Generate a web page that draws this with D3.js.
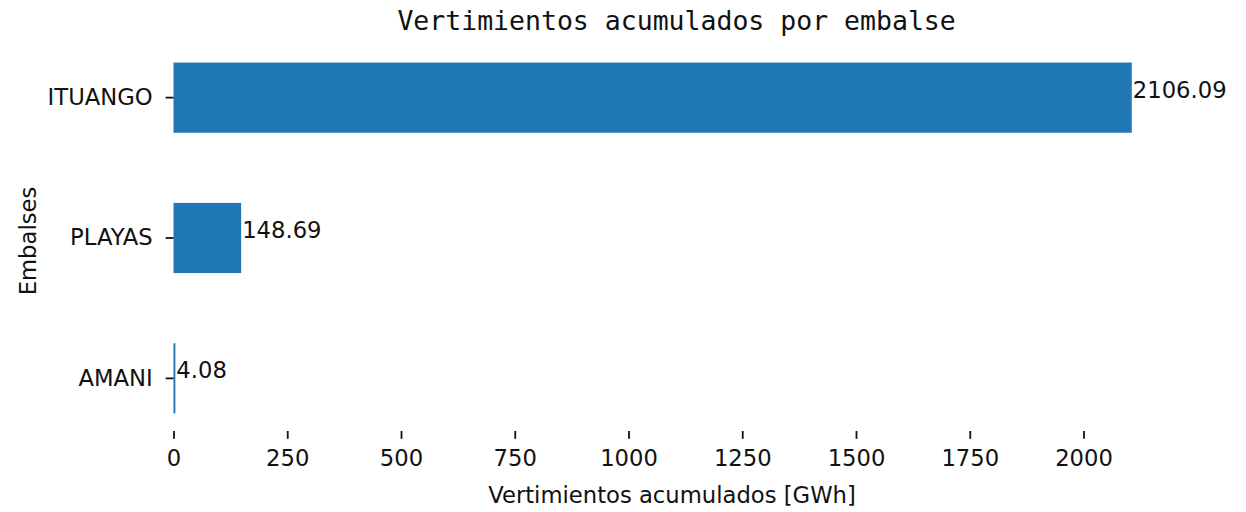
<!DOCTYPE html>
<html>
<head>
<meta charset="utf-8">
<script src="https://cdn.jsdelivr.net/npm/d3@7"></script>
<style>
  body { margin: 0; background: #fff; }
  svg { display: block; }
</style>
</head>
<body>
<svg id="chart" width="1246" height="512"></svg>
<script>
// data
const embalses = ['ITUANGO', 'PLAYAS', 'AMANI'];
const vertimientos = [2106.09, 148.69, 4.08];
const xTicks = [0, 250, 500, 750, 1000, 1250, 1500, 1750, 2000];

const chart = d3.select('#chart');
const sans = 'DejaVu Sans, sans-serif';
const mono = 'DejaVu Sans Mono, monospace';
const fs = '22.7px';

var plotLeft = 173.5, plotTop = 45, plotBottom = 431;
var xmax = d3.max(vertimientos) * 1.05;
var xs = d3.scaleLinear().domain([0, xmax]).range([plotLeft, plotLeft + xmax * 0.455]);
var ys = d3.scaleBand().domain(embalses).range([plotTop, plotBottom])
    .paddingInner(0.5).paddingOuter(0.125);

// bars
chart.selectAll('rect.bar')
    .data(embalses)
    .enter()
    .append('rect')
    .attr('class', 'bar')
    .attr('x', xs(0))
    .attr('y', function (d) { return ys(d); })
    .attr('width', function (d, i) { return xs(vertimientos[i]) - xs(0); })
    .attr('height', ys.bandwidth())
    .attr('fill', '#1f77b4');

// value labels
chart.selectAll('text.val')
    .data(embalses)
    .enter()
    .append('text')
    .attr('class', 'val')
    .attr('x', function (d, i) { return xs(vertimientos[i]) + 1; })
    .attr('y', function (d) { return ys(d) + ys.bandwidth() / 2; })
    .style('font-family', sans)
    .style('font-size', fs)
    .style('fill', '#111')
    .text(function (d, i) { return vertimientos[i].toFixed(2); });

// axes (no spines)
var xAxis = chart.append('g')
    .attr('transform', 'translate(0,' + plotBottom + ')')
    .call(d3.axisBottom(xs).tickValues(xTicks).tickFormat(d3.format('d')).tickSize(7.8).tickPadding(11));
var yAxis = chart.append('g')
    .attr('transform', 'translate(' + plotLeft + ',0)')
    .call(d3.axisLeft(ys).tickSize(7.8).tickPadding(13));

[xAxis, yAxis].forEach(function (g) {
    g.select('.domain').remove();
    g.selectAll('.tick line').attr('stroke', '#111').attr('stroke-width', 1.8);
    g.selectAll('.tick text')
        .style('font-family', sans)
        .style('font-size', fs)
        .attr('fill', '#111');
});

// title
chart.append('text')
    .attr('x', (xs.range()[0] + xs.range()[1]) / 2)
    .attr('y', 29.5)
    .attr('text-anchor', 'middle')
    .style('font-family', mono)
    .style('font-size', '26.5px')
    .style('fill', '#111')
    .text('Vertimientos acumulados por embalse');

// axis labels
chart.append('text')
    .attr('x', 672)
    .attr('y', 503)
    .attr('text-anchor', 'middle')
    .style('font-family', sans)
    .style('font-size', fs)
    .style('fill', '#111')
    .text('Vertimientos acumulados [GWh]');

chart.append('text')
    .attr('transform', 'translate(36,241) rotate(-90)')
    .attr('text-anchor', 'middle')
    .style('font-family', sans)
    .style('font-size', fs)
    .style('fill', '#111')
    .text('Embalses');
</script>
</body>
</html>
